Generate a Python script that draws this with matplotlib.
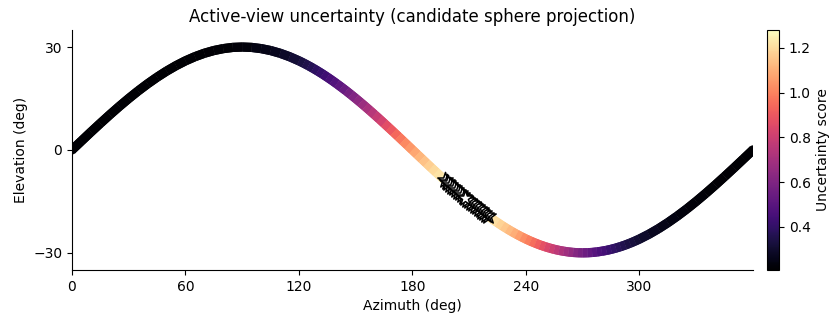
import numpy as np
import matplotlib.pyplot as plt
import matplotlib.transforms as mtransforms
from matplotlib.collections import PolyCollection
from matplotlib.colors import Normalize

# candidate views along the projected sphere path (denser where the score changes fast)
azimuth = [0, 5, 10, 15, 20, 25, 30, 35, 40, 45, 50, 55, 60, 65, 70, 75, 80, 85, 90,
           95, 100, 105, 110, 115, 120, 122.5, 125, 127.5, 130, 132.5, 135, 137.5,
           140, 142.5, 145, 147.5, 150, 152.5, 155, 157.5, 160, 162.5, 165, 167.5,
           170, 172.5, 175, 177.5, 180, 182.5, 185, 187.5, 190, 192.5, 195, 197.5,
           200, 202.5, 205, 207.5, 210, 212.5, 215, 217.5, 220, 222.5, 225, 227.5,
           230, 232.5, 235, 237.5, 240, 242.5, 245, 247.5, 250, 252.5, 255, 257.5,
           260, 262.5, 265, 267.5, 270, 272.5, 275, 277.5, 280, 282.5, 285, 287.5,
           290, 292.5, 295, 297.5, 300, 305, 310, 315, 320, 325, 330, 335, 340, 345,
           350, 355, 360]
elevation = [0.0, 2.61, 5.21, 7.76, 10.26, 12.68, 15.0, 17.21, 19.28, 21.21, 22.98,
             24.57, 25.98, 27.19, 28.19, 28.98, 29.54, 29.89, 30.0, 29.89, 29.54,
             28.98, 28.19, 27.19, 25.98, 25.30, 24.57, 23.80, 22.98, 22.12, 21.21,
             20.27, 19.28, 18.26, 17.21, 16.12, 15.0, 13.85, 12.68, 11.48, 10.26,
             9.02, 7.76, 6.49, 5.21, 3.92, 2.61, 1.31, 0.0, -1.31, -2.61, -3.92,
             -5.21, -6.49, -7.76, -9.02, -10.26, -11.48, -12.68, -13.85, -15.0,
             -16.12, -17.21, -18.26, -19.28, -20.27, -21.21, -22.12, -22.98, -23.80,
             -24.57, -25.30, -25.98, -26.61, -27.19, -27.72, -28.19, -28.61, -28.98,
             -29.29, -29.54, -29.74, -29.89, -29.97, -30.0, -29.97, -29.89, -29.74,
             -29.54, -29.29, -28.98, -28.61, -28.19, -27.72, -27.19, -26.61, -25.98,
             -24.57, -22.98, -21.21, -19.28, -17.21, -15.0, -12.68, -10.26, -7.76,
             -5.21, -2.61, 0.0]
uncertainty = [0.207, 0.207, 0.207, 0.207, 0.207, 0.207, 0.207, 0.207, 0.207, 0.208,
               0.208, 0.208, 0.209, 0.210, 0.212, 0.214, 0.217, 0.222, 0.228, 0.236,
               0.246, 0.260, 0.278, 0.299, 0.327, 0.342, 0.360, 0.378, 0.398, 0.420,
               0.444, 0.470, 0.497, 0.525, 0.556, 0.588, 0.621, 0.656, 0.691, 0.728,
               0.766, 0.804, 0.843, 0.882, 0.920, 0.958, 0.995, 1.032, 1.067, 1.100,
               1.132, 1.160, 1.187, 1.210, 1.231, 1.248, 1.262, 1.272, 1.278, 1.281,
               1.280, 1.275, 1.266, 1.254, 1.238, 1.219, 1.196, 1.171, 1.143, 1.113,
               1.080, 1.046, 1.010, 0.974, 0.936, 0.897, 0.859, 0.820, 0.782, 0.743,
               0.706, 0.670, 0.634, 0.601, 0.568, 0.537, 0.508, 0.480, 0.454, 0.430,
               0.407, 0.386, 0.367, 0.349, 0.333, 0.318, 0.305, 0.282, 0.263, 0.249,
               0.238, 0.229, 0.223, 0.218, 0.215, 0.212, 0.211, 0.209, 0.208]

# top-scoring candidates (starred)
star_az = [197, 198, 199, 200, 201, 202, 203, 204, 205, 206, 207, 208, 209, 210, 211,
           212, 213, 214, 215, 216, 217, 218, 219, 220]
star_el = [-8.77, -9.27, -9.77, -10.26, -10.75, -11.24, -11.72, -12.20, -12.68,
           -13.15, -13.62, -14.08, -14.54, -15.0, -15.45, -15.90, -16.34, -16.78,
           -17.21, -17.63, -18.05, -18.47, -18.88, -19.28]
star_score = [1.2419, 1.2478, 1.2532, 1.2585, 1.2633, 1.2677, 1.2715, 1.2749, 1.2775,
              1.2795, 1.2805, 1.2809, 1.2808, 1.2801, 1.2785, 1.2764, 1.2736, 1.2701,
              1.2660, 1.2612, 1.2557, 1.2503, 1.2442, 1.2377]

fig = plt.figure(figsize=(8.31, 3.18), dpi=100)
ax = fig.add_axes([0.0866, 0.151, 0.8195, 0.755])
cax = fig.add_axes([0.923, 0.151, 0.0145, 0.755])
ax.set_xlim(0, 360)
ax.set_ylim(-35, 35)

# thick colour-graded band: one quad per step, built in display pixels
u = np.array(uncertainty)
norm = Normalize(u.min(), u.max())
P = ax.transData.transform(np.column_stack([azimuth, elevation]))
tang = np.gradient(P, axis=0)
tang /= np.linalg.norm(tang, axis=1)[:, None]
nrm = np.column_stack([-tang[:, 1], tang[:, 0]]) * 4.6
left, right = P + nrm, P - nrm
quads = [[left[i], left[i + 1], right[i + 1], right[i]] for i in range(len(P) - 1)]
seg_u = (u[:-1] + u[1:]) / 2
# drawn twice so the seams between quads don't let the white through
for _ in range(2):
    band = PolyCollection(quads, cmap='magma', norm=norm, linewidths=0,
                          transform=mtransforms.IdentityTransform())
    band.set_array(seg_u)
    ax.add_collection(band, autolim=False)
# round the two ends like the scatter markers
ax.scatter([azimuth[0], azimuth[-1]], [elevation[0], elevation[-1]],
           c=[u[0], u[-1]], cmap='magma', norm=norm, s=44, linewidths=0)

# draw stars lowest score first so the best one sits on top
order = np.argsort(star_score)
ax.scatter(np.array(star_az)[order], np.array(star_el)[order], marker='*', s=135,
           c='white', edgecolors='black', linewidths=1.1, zorder=3)

ax.set_xticks([0, 60, 120, 180, 240, 300])
ax.set_yticks([-30, 0, 30])
ax.spines['top'].set_visible(False)
ax.spines['right'].set_visible(False)
ax.set_xlabel('Azimuth (deg)')
ax.set_ylabel('Elevation (deg)')
ax.set_title('Active-view uncertainty (candidate sphere projection)')

cb = fig.colorbar(band, cax=cax)
cb.set_label('Uncertainty score')

plt.savefig('out.png', dpi=100)
